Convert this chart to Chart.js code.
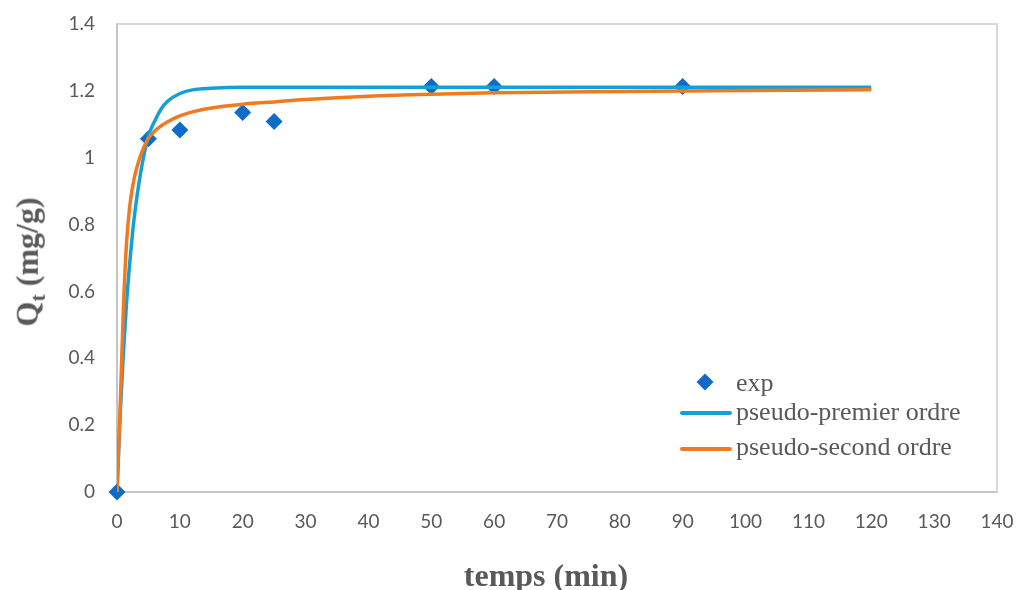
<!DOCTYPE html>
<html>
<head>
<meta charset="utf-8">
<script src="https://cdn.jsdelivr.net/npm/chart.js@4/dist/chart.umd.min.js"></script>
<style>
    html, body { margin: 0; padding: 0; background: #fff; }
    #wrap { position: relative; width: 1018px; height: 590px; }
    #wrap canvas { position: absolute; left: 0; top: 0; }
    .ytitle {
        position: absolute; left: 30px; top: 262px;
        transform: translate(-50%, -50%) rotate(-90deg);
        font: bold 32px "Liberation Serif", "Times New Roman", serif; color: #595959; white-space: nowrap;
    }
    .ytitle sub { font-size: 22px; }
    .xtitle {
        position: absolute; left: 546px; top: 575px; transform: translate(-50%, -50%);
        font: bold 32px "Liberation Serif", "Times New Roman", serif; color: #595959; white-space: nowrap;
    }
    .leg { position: absolute; left: 736px; font: 26px "Liberation Serif", "Times New Roman", serif; color: #595959; white-space: nowrap; transform: translateY(-50%); }
    .leg-line { position: absolute; left: 680px; width: 52px; height: 4px; border-radius: 2px; transform: translateY(-50%); }
    .leg-dia { position: absolute; left: 699px; top: 376px; width: 12px; height: 12px; background: #0f6cc6; transform: rotate(45deg); }
</style>
</head>
<body>
<div id="wrap">
    <canvas id="kin" width="1018" height="590"></canvas>
    <div class="ytitle">Q<sub>t</sub> (mg/g)</div>
    <div class="xtitle">temps (min)</div>
    <div class="leg-dia"></div>
    <div class="leg" style="top:383px;">exp</div>
    <div class="leg-line" style="top:413px;background:#139fd9;"></div>
    <div class="leg" style="top:412px;">pseudo-premier ordre</div>
    <div class="leg-line" style="top:449px;background:#f07a1f;"></div>
    <div class="leg" style="top:447px;">pseudo-second ordre</div>
</div>
<script>
// ─── DONNÉES ──────────────────────────────────────────────────
// points expérimentaux
const expTemps = [0, 5, 10, 20, 25, 50, 60, 90];
const expQt    = [0, 1.057, 1.083, 1.135, 1.108, 1.213, 1.213, 1.213];

// courbes
const modTemps   = [0, 0.5, 1, 1.5, 2, 2.5, 3, 4, 5, 6, 7, 8, 10, 12, 15, 20, 25, 30, 40, 50, 60, 80, 100, 120];
const premierQt  = [0, 0.23, 0.41, 0.56, 0.68, 0.78, 0.86, 0.98, 1.065, 1.11, 1.145, 1.168, 1.192, 1.203, 1.208, 1.211, 1.211, 1.211, 1.211, 1.211, 1.211, 1.211, 1.211, 1.211];
const secondQt   = [0, 0.25, 0.54, 0.74, 0.85, 0.915, 0.96, 1.02, 1.058, 1.08, 1.095, 1.107, 1.125, 1.137, 1.149, 1.160, 1.167, 1.174, 1.184, 1.190, 1.194, 1.198, 1.201, 1.203];

const xTicks = [0, 10, 20, 30, 40, 50, 60, 70, 80, 90, 100, 110, 120, 130, 140];

const toPts = (xs, ys) => xs.map((x, i) => ({ x: x, y: ys[i] }));

// cadre gris autour de la zone de tracé
const framePlugin = {
    id: 'frame',
    beforeDatasetsDraw(chart) {
        const a = chart.chartArea, ctx = chart.ctx;
        ctx.save();
        ctx.strokeStyle = '#d9d9d9';
        ctx.lineWidth = 2;
        ctx.beginPath();
        ctx.moveTo(a.left, a.top);
        ctx.lineTo(a.right, a.top);
        ctx.lineTo(a.right, a.bottom);
        ctx.stroke();
        ctx.restore();
    }
};

const tickFont = { family: 'Lato, "Open Sans", sans-serif', size: 19 };

new Chart(document.getElementById('kin').getContext('2d'), {
    type: 'scatter',
    data: {
        datasets: [
            {
                label: 'exp', data: toPts(expTemps, expQt), order: 3, clip: false,
                pointStyle: 'rectRot', pointRadius: 8.5, pointHoverRadius: 8.5,
                backgroundColor: '#0f6cc6', borderColor: '#0f6cc6', borderWidth: 0
            },
            {
                label: 'pseudo-premier ordre', data: toPts(modTemps, premierQt), order: 2,
                showLine: true, pointRadius: 0, borderColor: '#139fd9', borderWidth: 3.5,
                cubicInterpolationMode: 'monotone'
            },
            {
                label: 'pseudo-second ordre', data: toPts(modTemps, secondQt), order: 1,
                showLine: true, pointRadius: 0, borderColor: '#f07a1f', borderWidth: 3.5,
                cubicInterpolationMode: 'monotone'
            }
        ]
    },
    options: {
        responsive: false,
        animation: false,
        layout: { padding: { left: 0, top: 24, right: 21, bottom: 0 } },
        plugins: { legend: { display: false }, tooltip: { enabled: false } },
        scales: {
            x: {
                type: 'linear', min: 0, max: 140,
                afterBuildTicks: s => { s.ticks = xTicks.map(v => ({ value: v })); },
                afterFit: s => { s.height = 98; s.paddingLeft = 0; s.paddingRight = 0; },
                grid: { display: false, drawTicks: false },
                border: { display: true, color: '#c4c4c4', width: 2 },
                ticks: { color: '#595959', font: tickFont, padding: 18, maxRotation: 0 }
            },
            y: {
                type: 'linear', min: 0, max: 1.4,
                afterFit: s => { s.width = 117; s.paddingTop = 0; s.paddingBottom = 0; },
                grid: { display: false, drawTicks: false },
                border: { display: true, color: '#c4c4c4', width: 2 },
                ticks: {
                    color: '#595959', font: tickFont, padding: 22, stepSize: 0.2,
                    callback: v => String(+v.toFixed(1))
                }
            }
        }
    },
    plugins: [framePlugin]
});
</script>
</body>
</html>
